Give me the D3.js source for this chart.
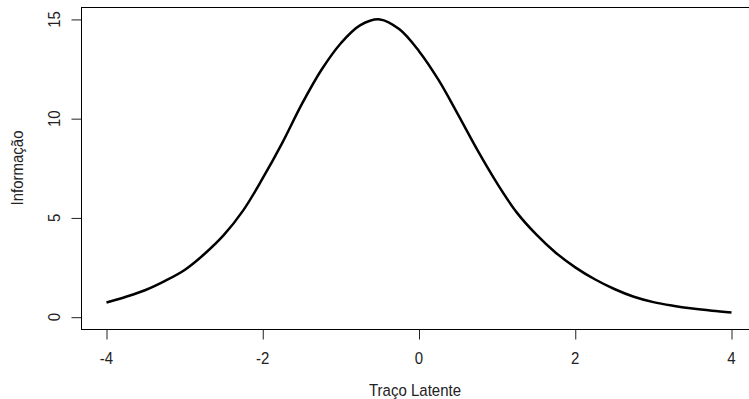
<!DOCTYPE html>
<html>
<head>
<meta charset="utf-8">
<script src="https://cdn.jsdelivr.net/npm/d3@7"></script>
<style>
  body { margin: 0; background: #fff; }
  text { font-family: "Liberation Sans", Arial, sans-serif; fill: #222; }
</style>
</head>
<body>
<div id="chart"></div>
<script>
var width = 749,
    height = 399;

// curva de informação do teste
var theta = [-4, -3.75, -3.5, -3.25, -3, -2.75, -2.5, -2.25, -2, -1.75, -1.5, -1.25, -1,
             -0.75, -0.5, -0.25, 0, 0.25, 0.5, 0.75, 1, 1.25, 1.5, 1.75, 2, 2.25, 2.5,
             2.75, 3, 3.25, 3.5, 3.75, 4];
var info = [0.74, 1.03, 1.37, 1.83, 2.38, 3.17, 4.13, 5.38, 7.0, 8.78, 10.73, 12.45, 13.8,
            14.71, 15.0, 14.5, 13.4, 11.95, 10.2, 8.4, 6.74, 5.28, 4.17, 3.25, 2.51, 1.91, 1.42,
            1.03, 0.76, 0.58, 0.44, 0.33, 0.24];
var xTicks = [-4, -2, 0, 2, 4];
var yTicks = [0, 5, 10, 15];

var box = {left: 81.5, top: 7.5, bottom: 329.5, right: 756.5};
var stretch = "scale(1,1.15)";  // o texto do original é mais alto que largo

var x = d3.scaleLinear().domain([-4.32, 4.32]).range([box.left, box.right]);
var y = d3.scaleLinear().domain([-0.62, 15.6]).range([box.bottom, box.top]);

var svg = d3.select("#chart").append("svg")
    .attr("width", width)
    .attr("height", height);

// eixo x
var xAxis = svg.append("g")
    .attr("transform", "translate(0," + box.bottom + ")")
    .call(d3.axisBottom(x).tickValues(xTicks).tickSize(10).tickFormat(""));
xAxis.select(".domain").remove();
xAxis.selectAll("line").attr("stroke", "#222");

svg.selectAll(".xlab")
    .data(xTicks)
    .enter().append("text")
    .attr("class", "xlab")
    .attr("transform", function(d) { return "translate(" + x(d) + ",364) " + stretch; })
    .attr("text-anchor", "middle")
    .attr("font-size", 15)
    .text(function(d) { return d; });

// eixo y (rótulos girados, como no R)
var yAxis = svg.append("g")
    .attr("transform", "translate(" + box.left + ",0)")
    .call(d3.axisLeft(y).tickValues(yTicks).tickSize(10).tickFormat(""));
yAxis.select(".domain").remove();
yAxis.selectAll("line").attr("stroke", "#222");

svg.selectAll(".ylab")
    .data(yTicks)
    .enter().append("text")
    .attr("class", "ylab")
    .attr("transform", function(d) { return "translate(60," + y(d) + ") rotate(-90) " + stretch; })
    .attr("text-anchor", "middle")
    .attr("font-size", 15)
    .text(function(d) { return d; });

// caixa do gráfico
svg.append("rect")
    .attr("x", box.left)
    .attr("y", box.top)
    .attr("width", box.right - box.left)
    .attr("height", box.bottom - box.top)
    .attr("fill", "none")
    .attr("stroke", "#000")
    .attr("stroke-width", 1);

var line = d3.line()
    .x(function(d, i) { return x(theta[i]); })
    .y(function(d) { return y(d); })
    .curve(d3.curveCatmullRom);

svg.append("path")
    .datum(info)
    .attr("d", line)
    .attr("fill", "none")
    .attr("stroke", "#000")
    .attr("stroke-width", 2.5)
    .attr("stroke-linejoin", "round");

svg.append("text")
    .attr("transform", "translate(415,396) " + stretch)
    .attr("text-anchor", "middle")
    .attr("font-size", 15)
    .text("Traço Latente");

svg.append("text")
    .attr("transform", "translate(23,168) rotate(-90) " + stretch)
    .attr("text-anchor", "middle")
    .attr("font-size", 15)
    .text("Informação");
</script>
</body>
</html>
